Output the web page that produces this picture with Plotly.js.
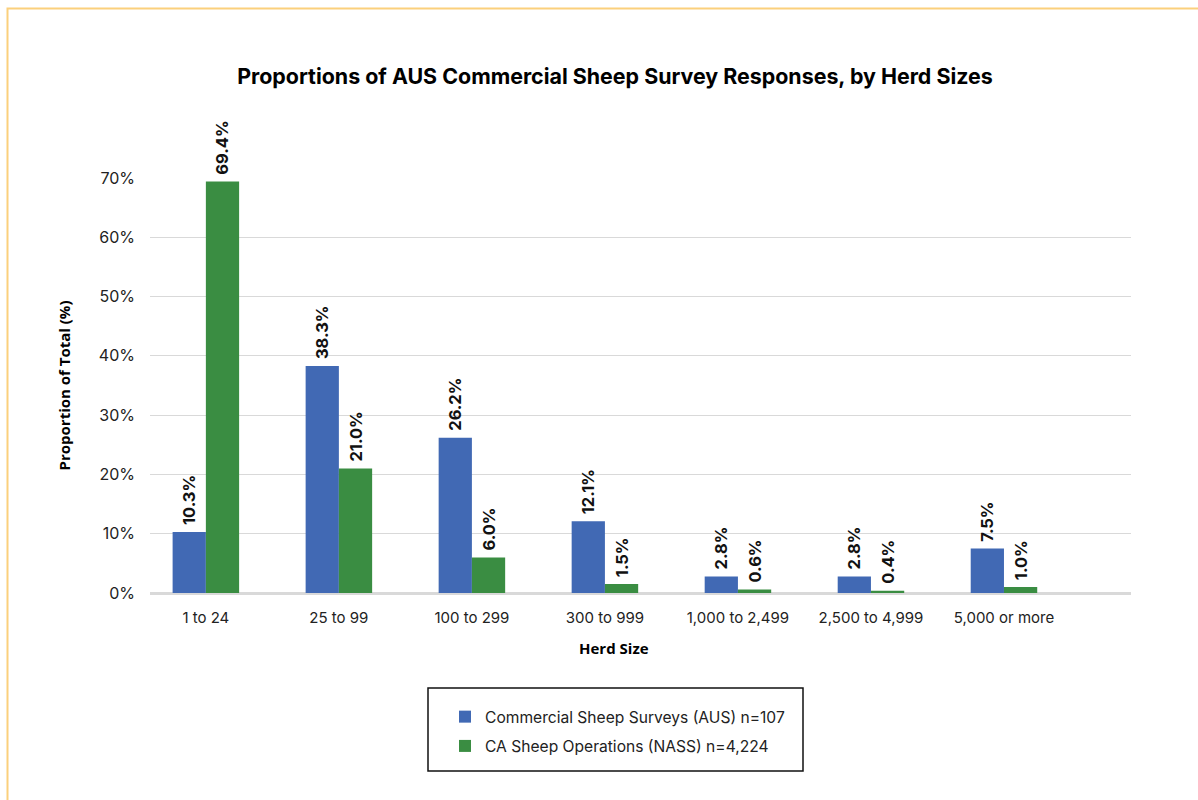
<!DOCTYPE html>
<html>
<head>
<meta charset="utf-8">
<script src="https://cdn.plot.ly/plotly-3.0.1.min.js"></script>
<style>html,body{margin:0;padding:0;background:#fff;}#chart{width:1198px;height:800px;}</style>
</head>
<body>
<div id="chart"></div>
<script>
const categories = ["1 to 24", "25 to 99", "100 to 299", "300 to 999", "1,000 to 2,499", "2,500 to 4,999", "5,000 or more"];
const ausValues = [10.3, 38.3, 26.2, 12.1, 2.8, 2.8, 7.5];
const nassValues = [69.4, 21.0, 6.0, 1.5, 0.6, 0.4, 1.0];
const seriesNames = ["Commercial Sheep Surveys (AUS) n=107", "CA Sheep Operations (NASS) n=4,224"];
const yTickVals = [0, 10, 20, 30, 40, 50, 60, 70];
const yTickText = ["0%", "10%", "20%", "30%", "40%", "50%", "60%", "70%"];

const W = 1198, H = 800;
const L = 150, R = 1131, T = 178, B = 593;
const px = x => (x - L) / (R - L);
const py = y => (B - y) / (B - T);

const labelFont = {family: "Inter, 'Liberation Sans', sans-serif", size: 16.5, color: "#111", weight: 700};

const traces = [
  {type: "bar", x: categories, y: ausValues, name: seriesNames[0], legendgroup: "a",
   marker: {color: "#4169B4"}, texttemplate: "\u00a0%{y:.1f}%", textposition: "outside",
   textangle: -90, textfont: labelFont, constraintext: "none", cliponaxis: false, hoverinfo: "x+y"},
  {type: "bar", x: categories, y: nassValues, name: seriesNames[1], legendgroup: "b",
   marker: {color: "#3A8D42"}, texttemplate: "\u00a0%{y:.1f}%", textposition: "outside",
   textangle: -90, textfont: labelFont, constraintext: "none", cliponaxis: false, hoverinfo: "x+y"}
];

const layout = {
  width: W, height: H,
  margin: {l: L, r: W - R, t: T, b: H - B, pad: 0},
  paper_bgcolor: "#fff", plot_bgcolor: "#fff",
  font: {family: "Inter, 'Liberation Sans', sans-serif", color: "#222"},
  title: {text: "Proportions of AUS Commercial Sheep Survey Responses, by Herd Sizes",
    font: {family: "Inter, 'Liberation Sans', sans-serif", size: 21.4, color: "#000", weight: 700},
    x: 615 / W, xanchor: "center", y: 1 - 77 / H, yanchor: "middle", xref: "container", yref: "container"},
  barmode: "group", bargap: 0.5, bargroupgap: 0,
  xaxis: {type: "category", range: [-0.42, 6.955], showgrid: false, zeroline: false, showline: false,
    ticks: "", tickfont: {size: 15, color: "#222"}, ticklabelstandoff: 14, fixedrange: true},
  yaxis: {range: [0, 70], tickvals: yTickVals, ticktext: yTickText, showgrid: true, gridcolor: "#d9d9d9", gridwidth: 1,
    zeroline: true, zerolinecolor: "#d9d9d9", zerolinewidth: 3, showline: false, ticks: "",
    tickfont: {size: 16, color: "#222"}, ticklabelstandoff: 14,
    title: {text: "Proportion of Total (%)", font: {family: "'Open Sans', sans-serif", size: 15, color: "#000", weight: 700}, standoff: 24}},
  showlegend: true,
  legend: {x: px(445), xanchor: "left", y: py(700), yanchor: "top", orientation: "v",
    traceorder: "grouped", tracegroupgap: 6, bgcolor: "rgba(0,0,0,0)", borderwidth: 0,
    font: {size: 15.6, color: "#222"}},
  annotations: [
    {text: "Herd Size", xref: "paper", yref: "paper", x: px(614), y: py(648), xanchor: "center", yanchor: "middle",
     showarrow: false, font: {family: "'Open Sans', sans-serif", size: 15, color: "#000", weight: 700}}
  ],
  shapes: [
    {type: "rect", xref: "paper", yref: "paper", x0: px(428), x1: px(803), y0: py(771), y1: py(688),
     line: {color: "#111", width: 1.5}, fillcolor: "rgba(0,0,0,0)", layer: "above"},
    {type: "rect", xref: "paper", yref: "paper", x0: px(7.5), x1: px(1210), y0: py(812), y1: py(8.5),
     line: {color: "#FBD07C", width: 2}, fillcolor: "rgba(0,0,0,0)", layer: "below"}
  ]
};

Plotly.newPlot("chart", traces, layout, {displayModeBar: false, staticPlot: true});
</script>
</body>
</html>
